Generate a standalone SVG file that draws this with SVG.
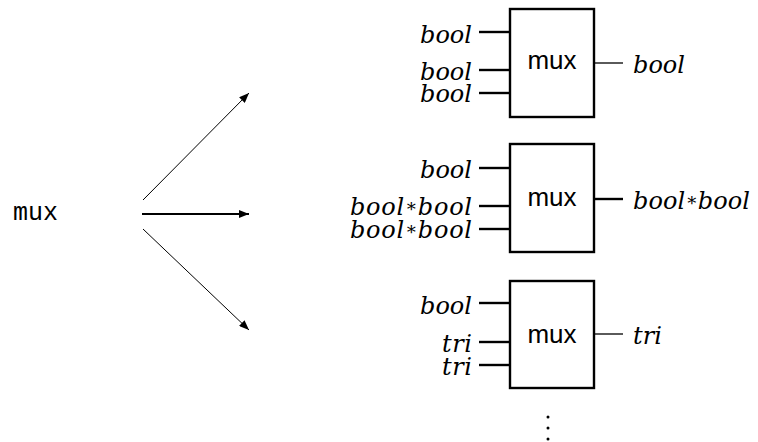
<svg xmlns="http://www.w3.org/2000/svg" width="758" height="442" viewBox="0 0 758 442">
  <style>
    .box { fill: #fff; stroke: #000; stroke-width: 2.4; }
    .pin { stroke: #000; stroke-width: 2.4; fill: none; }
    .out { stroke: #000; stroke-width: 1.3; fill: none; }
    .out-thick { stroke: #000; stroke-width: 2.4; fill: none; }
    .name { font-family: "Liberation Sans", Arial, sans-serif; font-size: 26px; text-anchor: middle; fill: #000; }
    .type { font-family: "DejaVu Serif", serif; font-style: italic; font-size: 24px; fill: #000; }
    .op { font-style: normal; font-size: 18px; }
    .tt { font-family: "Liberation Mono", "Courier New", monospace; font-size: 25px; fill: #000; }
    .arrow { stroke: #000; fill: none; }
  </style>
  <defs>
    <marker id="head" viewBox="0 0 10 8" refX="10" refY="4" markerWidth="10" markerHeight="8" markerUnits="userSpaceOnUse" orient="auto">
      <path d="M0,0 L10,4 L0,8 Z" fill="#000"/>
    </marker>
  </defs>

  <!-- generic polymorphic operator -->
  <g id="mux-generic">
    <text class="tt" x="13" y="220" textLength="45" lengthAdjust="spacing">mux</text>
  </g>

  <!-- instantiations -->
  <g id="connectors">
    <line class="arrow" x1="143" y1="200" x2="249" y2="93" stroke-width="1" marker-end="url(#head)"/>
    <line class="arrow" x1="142" y1="214" x2="249" y2="214" stroke-width="1.8" marker-end="url(#head)"/>
    <line class="arrow" x1="143" y1="229" x2="249" y2="330" stroke-width="1" marker-end="url(#head)"/>
  </g>

  <!-- mux over bool -->
  <g id="mux-bool">
    <rect class="box" x="510" y="9" width="84" height="108"/>
    <text class="name" x="552" y="69">mux</text>
    <line class="pin" x1="479" y1="32" x2="510" y2="32"/>
    <line class="pin" x1="479" y1="70" x2="510" y2="70"/>
    <line class="pin" x1="479" y1="93" x2="510" y2="93"/>
    <line class="out" x1="594" y1="63" x2="623" y2="63"/>
    <text class="type" x="420" y="43" textLength="52" lengthAdjust="spacing">bool</text>
    <text class="type" x="420" y="80" textLength="52" lengthAdjust="spacing">bool</text>
    <text class="type" x="420" y="102" textLength="52" lengthAdjust="spacing">bool</text>
    <text class="type" x="633" y="73" textLength="52" lengthAdjust="spacing">bool</text>
  </g>

  <!-- mux over bool*bool -->
  <g id="mux-pair">
    <rect class="box" x="510" y="144" width="84" height="108"/>
    <text class="name" x="552" y="206">mux</text>
    <line class="pin" x1="479" y1="168" x2="510" y2="168"/>
    <line class="pin" x1="479" y1="206" x2="510" y2="206"/>
    <line class="pin" x1="479" y1="229" x2="510" y2="229"/>
    <line class="out-thick" x1="594" y1="199" x2="623" y2="199"/>
    <text class="type" x="420" y="178" textLength="52" lengthAdjust="spacing">bool</text>
    <text class="type" x="350" y="215" textLength="122" lengthAdjust="spacing">bool<tspan class="op" dy="-3">∗</tspan><tspan dy="3">bool</tspan></text>
    <text class="type" x="350" y="238" textLength="122" lengthAdjust="spacing">bool<tspan class="op" dy="-3">∗</tspan><tspan dy="3">bool</tspan></text>
    <text class="type" x="633" y="209" textLength="117" lengthAdjust="spacing">bool<tspan class="op" dy="-3">∗</tspan><tspan dy="3">bool</tspan></text>
  </g>

  <!-- mux over tri -->
  <g id="mux-tri">
    <rect class="box" x="510" y="281" width="84" height="107"/>
    <text class="name" x="552" y="343">mux</text>
    <line class="pin" x1="479" y1="303" x2="510" y2="303"/>
    <line class="pin" x1="479" y1="342" x2="510" y2="342"/>
    <line class="pin" x1="479" y1="365" x2="510" y2="365"/>
    <line class="out" x1="594" y1="334" x2="623" y2="334"/>
    <text class="type" x="420" y="314" textLength="52" lengthAdjust="spacing">bool</text>
    <text class="type" x="442" y="352" textLength="30" lengthAdjust="spacing">tri</text>
    <text class="type" x="442" y="375" textLength="30" lengthAdjust="spacing">tri</text>
    <text class="type" x="633" y="344" textLength="29" lengthAdjust="spacing">tri</text>
  </g>

  <!-- further instances -->
  <g id="more">
    <circle cx="548" cy="417" r="1.5"/>
    <circle cx="548" cy="428" r="1.5"/>
    <circle cx="548" cy="439" r="1.5"/>
  </g>
</svg>
